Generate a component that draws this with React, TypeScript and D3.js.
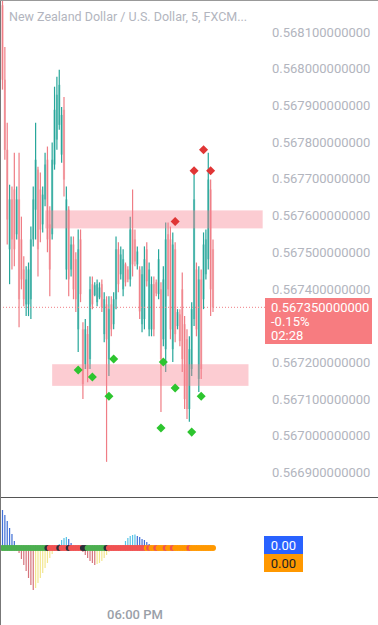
import React from 'react';
import * as d3 from 'd3';

const W = 378;
const H = 625;

const title = 'New Zealand Dollar / U.S. Dollar, 5, FXCM...';

const candleOpen = [0.568173,0.56797,0.567779,0.567508,0.567644,0.567671,0.567549,0.567644,0.567535,0.567453,0.567358,0.567358,0.567372,0.567535,0.567616,0.567725,0.567671,0.567576,0.567644,0.567752,0.567576,0.567549,0.567739,0.567807,0.567847,0.567766,0.567888,0.567453,0.567616,0.567453,0.567521,0.567481,0.56729,0.567535,0.56729,0.567195,0.567277,0.567209,0.567413,0.567383,0.567364,0.567377,0.567413,0.567277,0.567358,0.567209,0.567358,0.567304,0.567372,0.567508,0.56744,0.567399,0.567467,0.567453,0.567426,0.567562,0.567535,0.567467,0.567453,0.567304,0.567318,0.567508,0.56729,0.56729,0.567413,0.567418,0.567386,0.567399,0.567263,0.567236,0.567549,0.567535,0.567236,0.567508,0.567299,0.567331,0.567399,0.567304,0.567263,0.567073,0.567182,0.567318,0.567453,0.567155,0.567426,0.567372,0.56744,0.567481,0.567671,0.567508];
const candleHigh = [0.56823,0.568059,0.567853,0.567684,0.567679,0.567771,0.567679,0.567771,0.567597,0.567489,0.567462,0.567472,0.56757,0.567679,0.567853,0.567733,0.567717,0.567679,0.567771,0.567788,0.567625,0.567799,0.567951,0.567978,0.567997,0.567896,0.567923,0.567679,0.567625,0.567543,0.567543,0.5675,0.567562,0.567562,0.567309,0.567318,0.567299,0.567434,0.567434,0.567418,0.567426,0.567418,0.567426,0.567391,0.56738,0.56738,0.56738,0.567391,0.567543,0.567527,0.567516,0.567508,0.567472,0.567462,0.567597,0.567671,0.567562,0.567516,0.567462,0.567462,0.567516,0.567527,0.567472,0.567434,0.567434,0.567426,0.567508,0.567418,0.567462,0.567581,0.567581,0.56757,0.567554,0.567527,0.567345,0.567345,0.567445,0.567326,0.56729,0.567271,0.567364,0.567712,0.567472,0.567462,0.567453,0.567554,0.567562,0.567771,0.567698,0.567535];
const candleLow = [0.567943,0.567752,0.567521,0.567413,0.567453,0.567462,0.567535,0.567296,0.567399,0.567353,0.567326,0.567326,0.567318,0.567516,0.567535,0.567434,0.567527,0.567554,0.567625,0.5675,0.56738,0.567535,0.567725,0.567779,0.567834,0.567744,0.567652,0.567426,0.56738,0.567434,0.567372,0.567337,0.567228,0.567364,0.5671,0.567182,0.567146,0.567182,0.567345,0.56738,0.567353,0.567372,0.567337,0.567255,0.566929,0.567163,0.567271,0.56729,0.567345,0.567391,0.567426,0.56738,0.567407,0.567418,0.567407,0.567434,0.567462,0.567453,0.567318,0.567282,0.56729,0.567407,0.567271,0.567271,0.567271,0.56738,0.567372,0.567065,0.567244,0.567174,0.56738,0.567263,0.567201,0.567255,0.56729,0.567244,0.567174,0.567073,0.567046,0.567038,0.567163,0.567299,0.567271,0.567119,0.567155,0.567345,0.567426,0.567453,0.567326,0.567337];
const candleClose = [0.56797,0.567779,0.567589,0.567644,0.567535,0.567508,0.567644,0.567372,0.567426,0.567372,0.567426,0.567453,0.567535,0.567644,0.567752,0.567508,0.567562,0.567657,0.567739,0.567535,0.567453,0.567752,0.567888,0.567929,0.567956,0.567874,0.567698,0.567644,0.567426,0.567521,0.567399,0.567372,0.567508,0.567386,0.567141,0.56729,0.567182,0.567399,0.567358,0.56741,0.567413,0.567404,0.56735,0.567372,0.567263,0.567345,0.56729,0.567372,0.567508,0.567413,0.567494,0.567481,0.567418,0.567426,0.567562,0.567467,0.567475,0.567502,0.567339,0.56744,0.567481,0.567421,0.567453,0.567413,0.56729,0.567388,0.567481,0.567209,0.567426,0.567535,0.567399,0.56729,0.567521,0.567277,0.567337,0.567258,0.567209,0.5671,0.567073,0.567236,0.567345,0.567644,0.56729,0.567426,0.567182,0.567521,0.567535,0.567698,0.567399,0.56735];

const priceTicks = [0.5681,0.568,0.5679,0.5678,0.5677,0.5676,0.5675,0.5674,0.5673,0.5672,0.5671,0.567,0.5669];
const lastPrice = 0.56735;
const lastChange = '-0.15%';
const lastCountdown = '02:28';

const zoneStart = [18, 21];
const zoneEnd = [110, 104];
const zoneTop = [0.567614, 0.567195];
const zoneBottom = [0.567565, 0.567136];

const sellIndex = [73, 81, 85, 88];
const sellPrice = [0.567584, 0.567722, 0.567779, 0.567722];
const buyIndex = [32, 38, 47, 45, 68, 73, 67, 80, 84];
const buyPrice = [0.567179, 0.56716, 0.567209, 0.567108, 0.567201, 0.56713, 0.567021, 0.56701, 0.567108];

const momentum = [38,33,27,20,14,7,1,-5,-11,-17,-23,-30,-37,-42,-40,-35,-30,-25,-20,-15,-10,-6,-2,0,4,8,10,11,9,5,1,0,0,-2,-4,-7,-10,-13,-15,-17,-16,-15,-13,-10,-7,-4,-2,0,0,0,1,3,7,10,12,13,13.5,12,11,9,8,6,4,2,1,0,0,0,0,0,0,0,0,0,0,0,0,0,-3,0,0,0,0,0,0,0,0,0,0,0];
const squeezeState = ['g','g','g','g','g','g','g','g','g','g','g','g','g','g','g','g','g','g','g','k','r','r','r','r','k','r','r','r','k','r','r','r','r','r','k','k','g','g','g','g','g','g','g','g','k','r','r','r','r','r','r','r','r','r','r','r','r','r','r','r','r','o','r','o','o','r','o','o','o','r','o','o','r','o','o','o','o','o','o','r','o','o','o','o','o','o','o','o','o','o'];
const indicatorValues = ['0.00', '0.00'];

const startTime = new Date(2024, 0, 1, 13, 20);
const timeTicks = [new Date(2024, 0, 1, 18, 0)];

const UP = '#26a69a';
const DOWN = '#ef7d85';
const FONT = 'Roboto, sans-serif';

export default function App() {
  const n = candleOpen.length;
  const x = d3.scaleLinear().domain([0, n - 1]).range([2.5, 213]);
  const y = d3.scaleLinear().domain([0.5669, 0.5681]).range([472.5, 32]);
  const endTime = d3.timeMinute.offset(startTime, 5 * (n - 1));
  const xt = d3.scaleTime().domain([startTime, endTime]).range([2.5, 213]);
  const fmt = d3.format('.12f');
  const tfmt = d3.timeFormat('%I:%M %p');
  const base = 548;
  const my = d3.scaleLinear().domain([-45, 45]).range([base + 45, base - 45]);
  const diamond = d3.symbol().type(d3.symbolDiamond2).size(52)();
  const sqColor: Record<string, string> = { g: '#4caf50', r: '#f05252', o: '#ff9800', k: '#2a2e39' };

  const boxTop = 298;
  const boxBottom = 344;
  const visibleTicks = priceTicks.filter((p) => y(p) < boxTop - 6 || y(p) > boxBottom + 6);

  const histColor = (i: number) => {
    const v = momentum[i];
    const prev = i > 0 ? momentum[i - 1] : v + 1;
    if (v >= 0) return v >= prev ? '#56c3e6' : '#3f6fd6';
    return v < prev ? '#d6747c' : '#f3e68f';
  };

  return (
    <svg width={W} height={H} style={{ position: 'absolute', left: 0, top: 0, background: '#fff' }} fontFamily={FONT}>
      <defs>
        <clipPath id="pane">
          <rect x={0} y={0} width={266} height={497} />
        </clipPath>
      </defs>
      <rect x={0} y={0} width={W} height={H} fill="#fff" />
      <g clipPath="url(#pane)">
        {candleOpen.map((o, i) => {
          const c = candleClose[i];
          const col = c >= o ? UP : DOWN;
          const top = y(Math.max(o, c));
          const bot = y(Math.min(o, c));
          return (
            <g key={i}>
              <line x1={x(i)} x2={x(i)} y1={y(candleHigh[i])} y2={y(candleLow[i])} stroke={col} strokeWidth={1.2} />
              <rect x={x(i) - 1.1} y={top} width={2.2} height={Math.max(1, bot - top)} fill={col} opacity={0.5} />
            </g>
          );
        })}
        {zoneStart.map((s, k) => (
          <rect key={k} x={x(s)} y={y(zoneTop[k])} width={x(zoneEnd[k]) - x(s)} height={y(zoneBottom[k]) - y(zoneTop[k])} fill="rgba(247,128,142,0.4)" />
        ))}
        <line x1={0} x2={266} y1={y(lastPrice)} y2={y(lastPrice)} stroke="#ef7d85" strokeWidth={1} strokeDasharray="1,2" />
        {sellIndex.map((idx, k) => (
          <path key={'s' + k} d={diamond as string} transform={`translate(${x(idx)},${y(sellPrice[k])})`} fill="#e03535" />
        ))}
        {buyIndex.map((idx, k) => (
          <path key={'b' + k} d={diamond as string} transform={`translate(${x(idx)},${y(buyPrice[k])})`} fill="#2dc52f" />
        ))}
      </g>
      <text x={9} y={21} fontSize={12.5} fill="#b2b5be">{title}</text>
      {visibleTicks.map((p, k) => (
        <text key={k} x={272} y={y(p)} dy="0.35em" fontSize={13} fill="#b2b5be">{fmt(p)}</text>
      ))}
      <rect x={265} y={boxTop} width={107} height={boxBottom - boxTop} fill="#f77c80" />
      <text x={271} y={312} fontSize={13} fill="#fff">{fmt(lastPrice)}</text>
      <text x={271} y={326} fontSize={13} fill="#fff">{lastChange}</text>
      <text x={271} y={340} fontSize={13} fill="#fff">{lastCountdown}</text>

      <line x1={0} x2={W} y1={497.5} y2={497.5} stroke="#555" strokeWidth={1} />
      {momentum.map((v, i) => (
        <rect key={'h' + i} x={x(i) - 0.6} y={Math.min(my(v), my(0))} width={1.2} height={Math.abs(my(v) - my(0))} fill={histColor(i)} />
      ))}
      {squeezeState.map((s, i) => (
        <circle key={'q' + i} cx={x(i)} cy={base} r={3} fill={sqColor[s]} />
      ))}
      <rect x={264} y={536} width={39} height={18} fill="#2962ff" />
      <text x={283.5} y={549.5} fontSize={13} fill="#fff" textAnchor="middle">{indicatorValues[0]}</text>
      <rect x={264} y={554} width={39} height={18} fill="#ff9800" />
      <text x={283.5} y={567.5} fontSize={13} fill="#222" textAnchor="middle">{indicatorValues[1]}</text>

      {timeTicks.map((t, k) => (
        <text key={k} x={xt(t)} y={619} fontSize={13} fontWeight={500} fill="#9aa0a8" textAnchor="middle">{tfmt(t)}</text>
      ))}
      <line x1={0.5} x2={0.5} y1={0} y2={H} stroke="#777" strokeWidth={1} />
      <line x1={0} x2={W} y1={0.5} y2={0.5} stroke="#999" strokeWidth={1} />
    </svg>
  );
}
